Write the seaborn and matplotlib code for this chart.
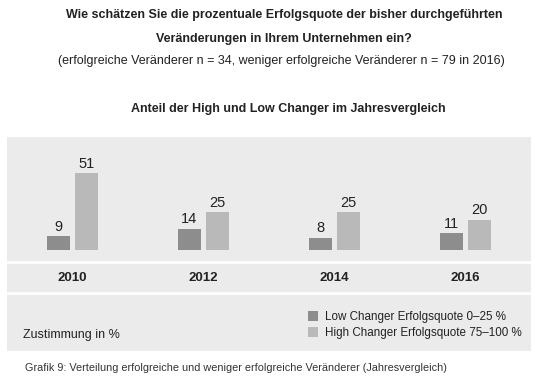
import matplotlib
matplotlib.use("Agg")
import matplotlib.pyplot as plt
from matplotlib.patches import Patch
import pandas as pd
import seaborn as sns

# Werte aus der Grafik
jahre = ["2010", "2012", "2014", "2016"]
low_changer = [9, 14, 8, 11]
high_changer = [51, 25, 25, 20]
serien = ["Low Changer Erfolgsquote 0–25 %", "High Changer Erfolgsquote 75–100 %"]
farben = ["#8d8d8d", "#b9b9b9"]

df = pd.DataFrame({
    "Jahr": jahre * 2,
    "Wert": low_changer + high_changer,
    "Gruppe": [serien[0]] * len(jahre) + [serien[1]] * len(jahre),
})

sns.set_style("white")
plt.rcParams["font.family"] = ["Liberation Sans", "DejaVu Sans"]
textfarbe = "#222222"

W, H = 535, 377
fig = plt.figure(figsize=(W / 100, H / 100), dpi=100)

# Grauer Kasten (Pixel -> Bruchteile)
links, rechts, oben, unten = 7, 531, 137, 351
ax = fig.add_axes([links / W, 1 - unten / H, (rechts - links) / W, (unten - oben) / H])
ax.set_facecolor("#ebebeb")

sns.barplot(data=df, x="Jahr", y="Wert", hue="Gruppe", palette=farben,
            width=0.43, gap=0.18, ax=ax, legend=False, saturation=1,
            edgecolor="none", linewidth=0)

for c in ax.containers:
    ax.bar_label(c, padding=2, fontsize=10.5, color=textfarbe)

ax.set_xlim(-0.5, 3.5)
ax.set_ylim(-67.3, 75.3)
ax.set_xlabel("")
ax.set_ylabel("")
ax.set_xticks([])
ax.set_yticks([])
for s in ax.spines.values():
    s.set_visible(False)

# weisse Trennlinien
ax.axhline(-8, color="white", lw=2)
ax.axhline(-28.7, color="white", lw=2)

for i, j in enumerate(jahre):
    ax.text(i, -18.7, j, ha="center", va="center", fontsize=9.5,
            fontweight="bold", color=textfarbe)

ax.text(16 / 524, 0.075, "Zustimmung in %", transform=ax.transAxes,
        ha="left", va="center", fontsize=9, color=textfarbe)

handles = [Patch(facecolor=f, edgecolor="none") for f in farben]
ax.legend(handles, serien, loc="lower left", bbox_to_anchor=(295 / 524, 0.03),
          frameon=False, fontsize=8.4, handlelength=0.9, handleheight=0.9,
          handletextpad=0.6, labelspacing=0.3, borderpad=0, labelcolor=textfarbe)

# Titel
mitte = 284 / W
fig.text(mitte, 1 - 15 / H,
         "Wie schätzen Sie die prozentuale Erfolgsquote der bisher durchgeführten",
         ha="center", va="center", fontsize=9, fontweight="bold", color=textfarbe)
fig.text(mitte, 1 - 39 / H, "Veränderungen in Ihrem Unternehmen ein?",
         ha="center", va="center", fontsize=9, fontweight="bold", color=textfarbe)
fig.text(281 / W, 1 - 61 / H,
         "(erfolgreiche Veränderer n = 34, weniger erfolgreiche Veränderer n = 79 in 2016)",
         ha="center", va="center", fontsize=9, color=textfarbe)
fig.text(288 / W, 1 - 109 / H, "Anteil der High und Low Changer im Jahresvergleich",
         ha="center", va="center", fontsize=9, fontweight="bold", color=textfarbe)

fig.text(25 / W, 1 - 368 / H,
         "Grafik 9: Verteilung erfolgreiche und weniger erfolgreiche Veränderer (Jahresvergleich)",
         ha="left", va="center", fontsize=7.8, color="#333333")

fig.savefig("out.png", dpi=100)
